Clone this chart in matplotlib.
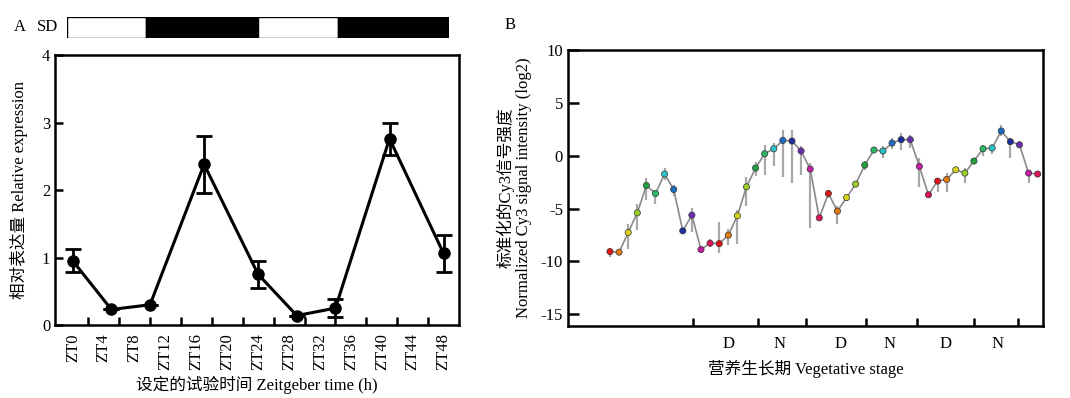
import matplotlib.pyplot as plt
import numpy as np

plt.rcParams['font.family'] = ['Liberation Serif', 'Noto Sans CJK SC']
plt.rcParams['axes.unicode_minus'] = False

# ---------------- panel A data ----------------
zt_ticks = np.arange(0, 49, 4)
zt_labels = [f"ZT{t}" for t in zt_ticks]
time_pts = np.array([0, 5, 10, 17, 24, 29, 34, 41, 48])
rel_expr = np.array([0.95, 0.23, 0.30, 2.38, 0.75, 0.14, 0.25, 2.76, 1.06])
rel_err = np.array([0.17, 0.0, 0.0, 0.42, 0.20, 0.0, 0.13, 0.24, 0.27])
# short day: light / dark blocks (start, length, colour)
sd_starts = [0, 10, 24, 34]
sd_lengths = [10, 14, 10, 14]
sd_colors = ['white', 'black', 'white', 'black']

# ---------------- panel B data ----------------
cy3 = np.array([-9.06, -9.12, -7.26, -5.40, -2.81, -3.57, -1.73, -3.19, -7.10, -5.62,
                -8.87, -8.27, -8.31, -7.51, -5.68, -2.94, -1.16, 0.19, 0.66, 1.45,
                1.39, 0.45, -1.26, -5.87, -3.57, -5.24, -3.95, -2.68, -0.88, 0.54,
                0.45, 1.20, 1.52, 1.52, -1.01, -3.69, -2.40, -2.24, -1.33, -1.64,
                -0.50, 0.66, 0.73, 2.34, 1.33, 1.04, -1.64, -1.73])
cy3_lo = np.array([0.5, 0.1, 1.6, 1.6, 1.4, 0.95, 0.55, 0.65, 0.0, 1.55,
                   0.35, 0.4, 0.9, 0.9, 2.7, 1.8, 0.8, 2.0, 1.65, 3.5,
                   4.0, 2.3, 5.6, 0.1, 0.4, 1.2, 0.3, 0.1, 0.45, 0.0,
                   0.65, 0.6, 0.95, 0.8, 1.9, 0.0, 1.0, 1.2, 0.2, 0.95,
                   0.1, 0.7, 0.55, 0.5, 1.55, 0.0, 0.95, 0.0])
cy3_hi = np.array([0.25, 0.1, 0.8, 0.8, 0.7, 0.35, 0.6, 0.45, 0.0, 0.65,
                   0.3, 0.4, 2.0, 0.6, 0.55, 0.9, 0.55, 0.85, 0.55, 1.0,
                   1.0, 0.45, 0.55, 0.1, 0.3, 0.45, 0.2, 0.1, 0.4, 0.0,
                   0.45, 0.45, 0.6, 0.45, 0.8, 0.0, 0.3, 0.65, 0.2, 0.45,
                   0.1, 0.4, 0.4, 0.6, 0.35, 0.0, 0.15, 0.0])
sample_idx = np.arange(1, len(cy3) + 1)
cycle_colors = ['#e01515', '#e07c12', '#d6d21c', '#9ccc2a', '#22a040', '#2db868',
                '#2ec0c8', '#1a6cc4', '#1c2c9c', '#6a2eb0', '#c21ea6', '#dc1458']
point_colors = [cycle_colors[i % 12] for i in range(len(cy3))]
dn_bounds = [10.1, 17.3, 22.5, 29.1, 34.7, 41.0, 45.8]
dn_pos = [14.0, 19.6, 26.3, 31.7, 37.9, 43.6]
dn_labels = ['D', 'N', 'D', 'N', 'D', 'N']

fig = plt.figure(figsize=(10.7, 3.98), dpi=100)

# ================= panel A =================
axA = fig.add_axes([0.0514, 0.1834, 0.3776, 0.6784])
axA.errorbar(time_pts, rel_expr, yerr=rel_err, color='black', lw=2.2,
             marker='o', ms=8, capsize=6, capthick=2, elinewidth=2)
axA.set_xlim(-2.3, 50.0)
axA.set_ylim(0, 4)
axA.set_yticks([0, 1, 2, 3, 4])
axA.set_xticks(zt_ticks)
axA.set_xticklabels(zt_labels, rotation=90)
axA.set_xticks(np.arange(2, 47, 4), minor=True)
axA.tick_params(axis='x', which='major', length=0, pad=6, labelsize=12)
axA.tick_params(axis='x', which='minor', direction='in', length=6, width=1.8)
axA.tick_params(axis='y', direction='in', length=6, width=1.8, labelsize=12)
for s in axA.spines.values():
    s.set_linewidth(1.8)
axA.set_ylabel("相对表达量 Relative expression", fontsize=12, labelpad=10)
axA.set_xlabel("设定的试验时间 Zeitgeber time (h)", fontsize=12, labelpad=4)

# SD bar
axSD = fig.add_axes([0.0623, 0.9038, 0.3576, 0.0543])
axSD.barh(0, sd_lengths, left=sd_starts, height=1, color=sd_colors,
          edgecolor='black', lw=1)
axSD.set_xlim(0, 48)
axSD.set_ylim(-0.5, 0.5)
axSD.axis('off')
fig.text(0.019, 0.932, "A", fontsize=12, va='center', ha='center')
fig.text(0.044, 0.932, "SD", fontsize=12, va='center', ha='center')

# ================= panel B =================
axB = fig.add_axes([0.5308, 0.1809, 0.4439, 0.6935])
axB.vlines(sample_idx, cy3 - cy3_lo, cy3 + cy3_hi, color='#a8a8a8', lw=1.6, zorder=1)
axB.plot(sample_idx, cy3, color='#8a8a8a', lw=1.2, zorder=2)
axB.scatter(sample_idx, cy3, s=20, c=point_colors, edgecolors='#333333',
            linewidths=0.5, zorder=3)
axB.set_xlim(-3.62, 48.58)
axB.set_ylim(-16.1, 10)
axB.set_yticks([10, 5, 0, -5, -10, -15])
axB.set_xticks(dn_bounds)
axB.set_xticklabels([])
axB.set_xticks(dn_pos, minor=True)
axB.set_xticklabels(dn_labels, minor=True)
axB.tick_params(axis='x', which='major', direction='in', length=6, width=1.8)
axB.tick_params(axis='x', which='minor', length=0, pad=7, labelsize=12)
axB.tick_params(axis='y', direction='in', length=8, width=1.8, labelsize=12)
for s in axB.spines.values():
    s.set_linewidth(1.8)
axB.set_ylabel("标准化的Cy3信号强度\nNormalized Cy3 signal intensity (log2)",
               fontsize=12, labelpad=6, linespacing=1.15)
axB.set_xlabel("营养生长期 Vegetative stage", fontsize=12, labelpad=6)
fig.text(0.477, 0.937, "B", fontsize=12, va='center', ha='center')

fig.savefig("out.png", dpi=100)
